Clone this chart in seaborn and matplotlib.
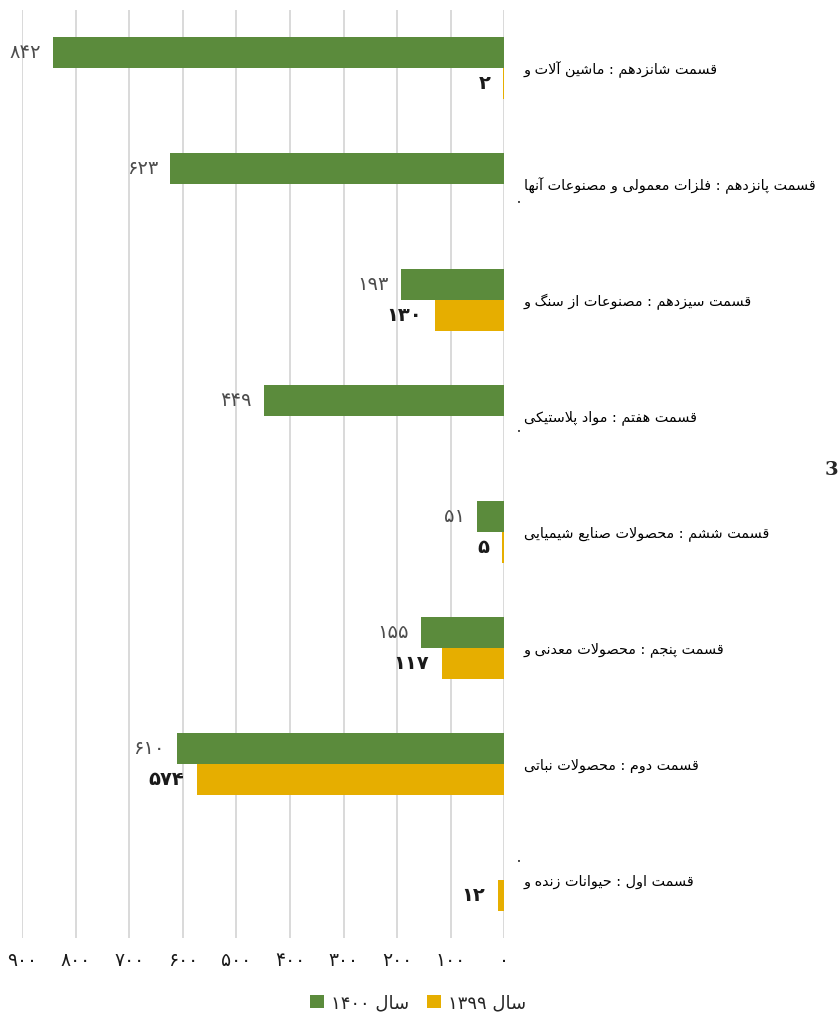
import numpy as np
import pandas as pd
import seaborn as sns
import matplotlib
matplotlib.use("Agg")
import matplotlib.pyplot as plt

# داده ها
categories = [
    "قسمت شانزدهم : ماشین آلات و",
    "قسمت پانزدهم : فلزات معمولی و مصنوعات آنها",
    "قسمت سیزدهم : مصنوعات از سنگ و",
    "قسمت هفتم : مواد پلاستیکی",
    "قسمت ششم : محصولات صنایع شیمیایی",
    "قسمت پنجم : محصولات معدنی و",
    "قسمت دوم : محصولات نباتی",
    "قسمت اول : حیوانات زنده و",
]
series_names = ["سال ۱۴۰۰", "سال ۱۳۹۹"]
values_1400 = [842, 623, 193, 449, 51, 155, 610, None]
values_1399 = [2, None, 130, None, 5, 117, 574, 12]
x_ticks = [0, 100, 200, 300, 400, 500, 600, 700, 800, 900]

GREEN = "#5b8b3c"
GOLD = "#e6ae00"

# --- شکل دهی ساده حروف فارسی (matplotlib خودش متن راست به چپ را نمی چیند)
TWO = {0x0627: (0xFE8D, 0xFE8E), 0x0622: (0xFE81, 0xFE82), 0x062F: (0xFEA9, 0xFEAA),
       0x0630: (0xFEAB, 0xFEAC), 0x0631: (0xFEAD, 0xFEAE), 0x0632: (0xFEAF, 0xFEB0),
       0x0698: (0xFB8A, 0xFB8B), 0x0648: (0xFEED, 0xFEEE)}
FOUR = {0x0628: 0xFE8F, 0x062A: 0xFE95, 0x062B: 0xFE99, 0x062C: 0xFE9D, 0x062D: 0xFEA1,
        0x062E: 0xFEA5, 0x0633: 0xFEB1, 0x0634: 0xFEB5, 0x0635: 0xFEB9, 0x0636: 0xFEBD,
        0x0637: 0xFEC1, 0x0638: 0xFEC5, 0x0639: 0xFEC9, 0x063A: 0xFECD, 0x0641: 0xFED1,
        0x0642: 0xFED5, 0x0643: 0xFED9, 0x0644: 0xFEDD, 0x0645: 0xFEE1, 0x0646: 0xFEE5,
        0x0647: 0xFEE9, 0x064A: 0xFEF1, 0x0626: 0xFE89, 0x067E: 0xFB56, 0x0686: 0xFB7A,
        0x06A9: 0xFB8E, 0x06AF: 0xFB92, 0x06CC: 0xFBFC}
LAMALEF = {0x0627: (0xFEFB, 0xFEFC), 0x0622: (0xFEF5, 0xFEF6)}
FA_DIGITS = str.maketrans("0123456789", "۰۱۲۳۴۵۶۷۸۹")


def shape_word(w):
    if all("\u06F0" <= c <= "\u06F9" for c in w):
        return w
    out, i, n = [], 0, len(w)
    while i < n:
        o = ord(w[i])
        pj = i > 0 and ord(w[i - 1]) in FOUR
        if o == 0x0644 and i + 1 < n and ord(w[i + 1]) in LAMALEF:
            iso, fin = LAMALEF[ord(w[i + 1])]
            out.append(chr(fin if pj else iso))
            i += 2
            continue
        nj = i + 1 < n and (ord(w[i + 1]) in FOUR or ord(w[i + 1]) in TWO)
        if o in FOUR:
            k = 3 if (pj and nj) else 1 if pj else 2 if nj else 0
            out.append(chr(FOUR[o] + k))
        elif o in TWO:
            out.append(chr(TWO[o][1 if pj else 0]))
        else:
            out.append(w[i])
        i += 1
    return "".join(reversed(out))


def rtl(s):
    return " ".join(shape_word(w) for w in reversed(s.split(" ")))


def fa_num(v):
    return str(int(v)).translate(FA_DIGITS)


df = pd.DataFrame({
    "category": categories * 2,
    "series": [series_names[0]] * len(categories) + [series_names[1]] * len(categories),
    "value": values_1400 + values_1399,
}).dropna()
df["series_label"] = df["series"].map(rtl)

sns.set_style("white")
plt.rcParams["font.family"] = ["DejaVu Sans"]

fig = plt.figure(figsize=(8.4, 10.16), dpi=100)
ax = fig.add_axes([22 / 840, 78 / 1016, 482.4 / 840, 928 / 1016])

sns.barplot(data=df, y="category", x="value", hue="series_label",
            order=categories, hue_order=[rtl(s) for s in series_names],
            palette=[GREEN, GOLD], width=0.53, orient="h", ax=ax,
            saturation=1, errorbar=None, linewidth=0)

ax.set_xlim(900, 0)
ax.set_ylim(len(categories) - 0.5, -0.5)
ax.set_xticks(x_ticks)
ax.set_xticklabels([fa_num(t) for t in x_ticks], fontsize=13.5, color="#1a1a1a")
ax.set_yticks(range(len(categories)))
ax.set_yticklabels([rtl(c) for c in categories], fontsize=10.4, color="#000000")
ax.yaxis.tick_right()
ax.tick_params(axis="y", length=0, pad=14)
ax.tick_params(axis="x", length=0, pad=9)
ax.set_xlabel("")
ax.set_ylabel("")
ax.xaxis.grid(True, color="#d9d9d9", lw=1.4)
ax.set_axisbelow(True)
for sp in ax.spines.values():
    sp.set_visible(False)

label_styles = [dict(color="#4d4d4d", fontsize=14), dict(color="#1a1a1a", fontsize=14, fontweight="bold")]
for cont, st in zip(ax.containers, label_styles):
    labs = ["" if np.isnan(v) else fa_num(v) for v in cont.datavalues]
    ax.bar_label(cont, labels=labs, padding=9, **st)

sns.move_legend(ax, "center", bbox_to_anchor=(418 / 840, 1 - 1003 / 1016), bbox_transform=fig.transFigure,
                ncol=2, frameon=False, title=None, fontsize=13, handlelength=0.75,
                handleheight=0.75, columnspacing=1.0, handletextpad=0.4)

# تکه های بریده شده متن در تصویر اصلی
fig.text(0.998, 1 - 470 / 1016, "3", ha="right", va="center", fontsize=14,
         fontweight="bold", family="DejaVu Serif")
for yy in (203, 432, 862):
    fig.text(519 / 840, 1 - yy / 1016, "•", ha="center", va="center", fontsize=5, color="#222222")

fig.savefig("out.png", dpi=100)
